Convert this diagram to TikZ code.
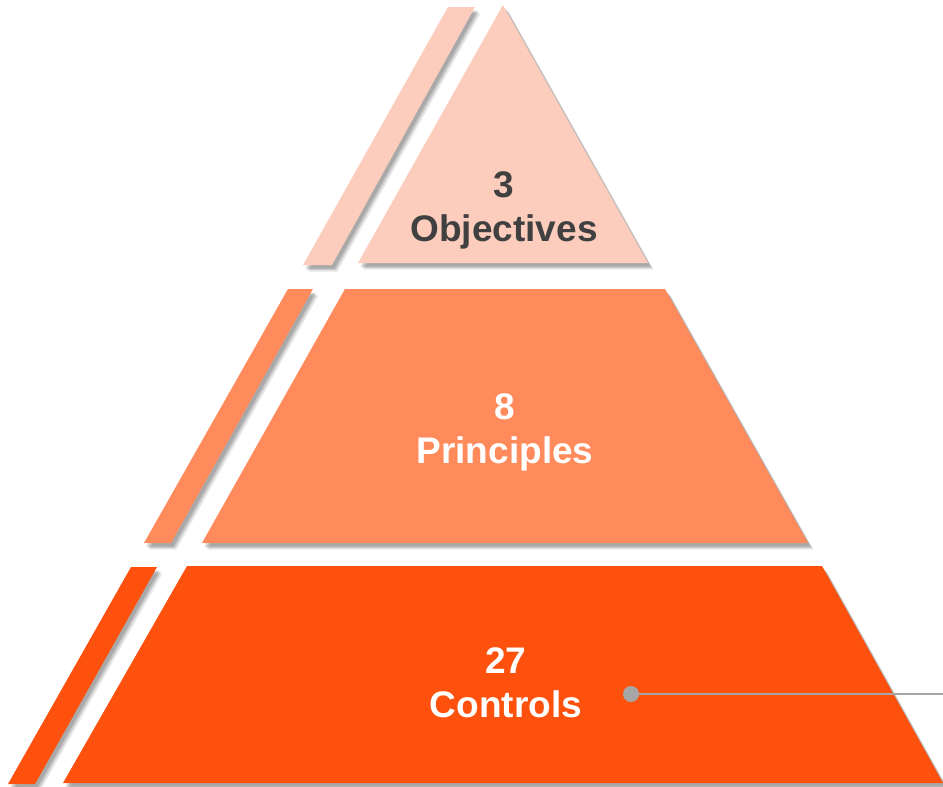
\documentclass[tikz,border=0pt]{standalone}
\usepackage{fontspec}
\setmainfont{Liberation Sans}
\usetikzlibrary{shadows}
\definecolor{toptone}{RGB}{252,205,188}
\definecolor{midtone}{RGB}{255,138,91}
\definecolor{bottone}{RGB}{254,81,14}
\definecolor{darktext}{RGB}{64,64,64}
\definecolor{linegray}{RGB}{166,166,166}
\tikzset{
  softshadow/.style={
    preaction={fill=black,opacity=0.15,transform canvas={shift={(2.5pt,-3.5pt)}}},
    preaction={fill=black,opacity=0.14,transform canvas={shift={(4pt,-5pt)}}},
    preaction={fill=black,opacity=0.09,transform canvas={shift={(5.5pt,-6.5pt)}}}
  },
  lbl/.style={font=\fontsize{37}{44}\selectfont\bfseries, align=center, inner sep=0pt},
  dotnode/.style={circle, fill=linegray, minimum size=16pt, inner sep=0pt},
  leader/.style={draw=linegray, line width=2pt}
}
\begin{document}
\begin{tikzpicture}[x=1pt,y=-1pt]
\useasboundingbox (0,0) rectangle (943,787);
% top tier
\fill[toptone, softshadow] (448,7) -- (475,7) -- (332,265) -- (303,265) -- cycle;
\fill[toptone, softshadow] (503,5) -- (648,263) -- (358,263) -- cycle;
% middle tier
\fill[midtone, softshadow] (288,289) -- (313,289) -- (171,543) -- (144,543) -- cycle;
\fill[midtone, softshadow] (345,289) -- (665,289) -- (808,543) -- (202,543) -- cycle;
% bottom tier
\fill[bottone, softshadow] (131,567) -- (157,567) -- (35,784) -- (8,784) -- cycle;
\fill[bottone, softshadow] (187,566) -- (822,566) -- (943,783) -- (63,783) -- cycle;
% labels
\node[lbl, text=darktext] (objectives) at (504,210) {3\\Objectives};
\node[lbl, text=white] (principles) at (505,432) {8\\Principles};
\node[lbl, text=white] (controls) at (506,683) {27\\Controls};
% leader
\node[dotnode] (dot) at (631,694) {};
\coordinate (leaderend) at (943,694);
\draw[leader] (dot.center) -- (leaderend);
\end{tikzpicture}
\end{document}
